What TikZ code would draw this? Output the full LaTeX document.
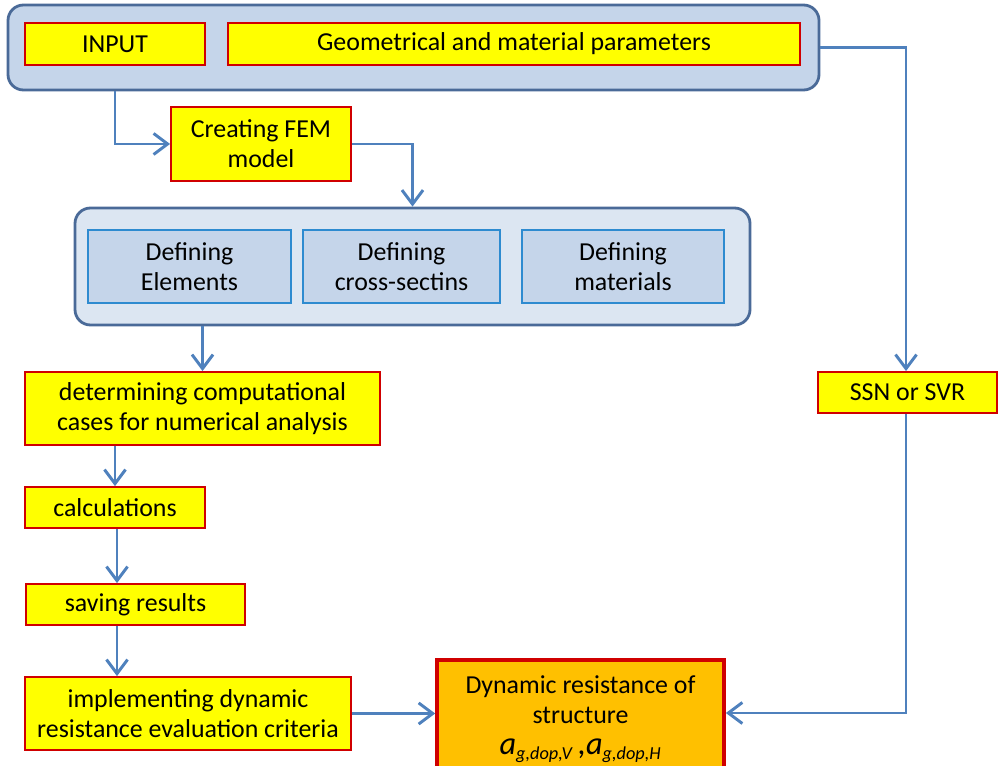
\documentclass[tikz,border=0pt]{standalone}
\usepackage{fontspec}
\setmainfont{Carlito}
\usepackage{tikz}
\usetikzlibrary{positioning,calc,arrows.meta}

\definecolor{boxyellow}{HTML}{FFFF00}
\definecolor{boxred}{HTML}{D00000}
\definecolor{frameblue}{HTML}{4A6A98}
\definecolor{framefill}{HTML}{C5D5EA}
\definecolor{framelight}{HTML}{DCE6F2}
\definecolor{stepblue}{HTML}{2E8BD0}
\definecolor{flowblue}{HTML}{4F81BD}
\definecolor{resorange}{HTML}{FFC000}

\newcommand{\pxu}{0.025cm}

\tikzset{
  yellowbox/.style={draw=boxred,line width=1.3pt,fill=boxyellow,align=center,
    inner sep=0pt,font=\fontsize{18.4}{21.3}\selectfont},
  bluebox/.style={draw=stepblue,line width=1pt,fill=framefill,align=center,
    inner sep=0pt,font=\fontsize{18.4}{21.3}\selectfont},
  framebox/.style={draw=frameblue,line width=2pt,rounded corners=11pt,inner sep=0pt},
  size/.style 2 args={minimum width=#1*\pxu,minimum height=#2*\pxu},
  flow/.style={draw=flowblue,line width=2.1pt,
    -{Straight Barb[length=10pt,width=15pt,line width=2.1pt]}},
}

\begin{document}
\begin{tikzpicture}[x=0.025cm,y=-0.025cm]
    \useasboundingbox (0,0) rectangle (999,766);

    % Input
    \node[framebox,fill=framefill,size={811}{85}] (inbox) at (413.5,47.5) {};
    \node[yellowbox,size={180}{42}] (input) at (115,44) {INPUT};
    \node[yellowbox,size={572}{42}] (geom) at (514,44) {Geometrical and material parameters};

    % FEM model
    \node[yellowbox,size={180}{74}] (fem) at (261,144) {Creating FEM\\model};
    \node[framebox,fill=framelight,size={675}{117}] (frame) at (412.5,266.5) {};
    \node[bluebox,size={203}{73}] (elem) at (189.5,266.5) {Defining\\Elements};
    \node[bluebox,size={197}{73}] (cross) at (401.5,266.5) {Defining\\cross-sectins};
    \node[bluebox,size={202}{73}] (mater) at (623,266.5) {Defining\\materials};

    % Analysis
    \node[yellowbox,size={355}{73}] (det) at (202.5,408.5) {determining computational\\cases for numerical analysis};
    \node[yellowbox,size={180}{41}] (calc) at (115,507.5) {calculations};
    \node[yellowbox,size={219}{41}] (save) at (135.5,604.5) {saving results};
    \node[yellowbox,size={326}{73}] (impl) at (188,713.5) {implementing dynamic\\resistance evaluation criteria};

    % Seismic input
    \node[yellowbox,size={179}{41}] (ssn) at (907.5,392.5) {SSN or SVR};

    % Result
    \node[yellowbox,draw=boxred,line width=2.6pt,fill=resorange,size={287}{118}] (dyn) at (580.5,719)
      {Dynamic resistance of\\structure\\[1pt]{\itshape\fontsize{23}{21}\selectfont a\textsubscript{\fontsize{13}{13}\selectfont g,dop,V}\,,a\textsubscript{\fontsize{13}{13}\selectfont g,dop,H}}};

    % Connectors
    \draw[flow] (inbox.south -| input.south) |- (fem.west);
    \draw[flow] (fem.east) -| (frame.north);
    \draw[flow] (frame.south -| det.north) -- (det.north);
    \draw[flow] (det.south -| calc.north) -- (calc.north);
    \draw[flow] ($(calc.south)+(2,0)$) -- ($(calc.south |- save.north)+(2,0)$);
    \draw[flow] ($(calc.south |- save.south)+(2,0)$) -- ($(calc.south |- impl.north)+(2,0)$);
    \draw[flow] (impl.east) -- (impl.east -| dyn.west);
    \draw[flow] (inbox.east) -| ($(ssn.north)+(-1.5,0)$);
    \draw[flow] ($(ssn.south)+(-1.5,0)$) |- ($(dyn.east)+(0,-6)$);
\end{tikzpicture}
\end{document}
